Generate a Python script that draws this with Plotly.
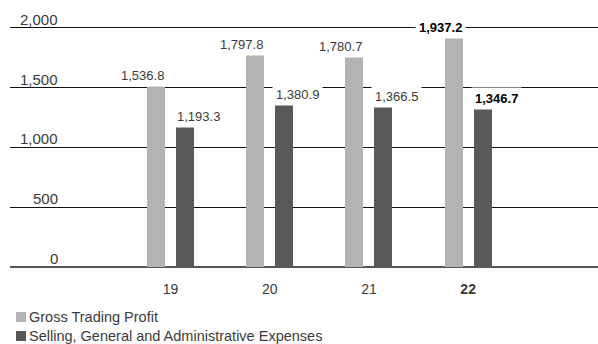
import plotly.graph_objects as go

# Fiscal years and the two series (billions of yen)
years = ["19", "20", "21", "22"]
gross_profit = [1536.8, 1797.8, 1780.7, 1937.2]
sga_expenses = [1193.3, 1380.9, 1366.5, 1346.7]
gross_labels = ["1,536.8", "1,797.8", "1,780.7", "1,937.2"]
sga_labels = ["1,193.3", "1,380.9", "1,366.5", "1,346.7"]
y_ticks = [0, 500, 1000, 1500, 2000]
y_tick_text = ["0", "500", "1,000", "1,500", "2,000"]
series_names = ["Gross Trading Profit", "Selling, General and Administrative Expenses"]

LIGHT = "#b3b3b3"
DARK = "#595959"
TEXT = "#3a3a3a"
FONT = "Liberation Sans, Arial, Helvetica, sans-serif"

W, H = 598, 344
ML, MR, MT, MB = 10, 0, 16, 77
plot_w = W - ML - MR
plot_h = H - MT - MB

x = list(range(len(years)))
bar_w = 0.1815
off_light = -0.237
off_dark = 0.0554
latest = len(years) - 1

fig = go.Figure()
fig.add_trace(go.Bar(x=x, y=gross_profit, width=bar_w, offset=off_light,
                     marker=dict(color=LIGHT, line=dict(width=0)),
                     name=series_names[0], showlegend=False))
fig.add_trace(go.Bar(x=x, y=sga_expenses, width=bar_w, offset=off_dark,
                     marker=dict(color=DARK, line=dict(width=0)),
                     name=series_names[1], showlegend=False))

annotations = []
# value labels on white boxes so they interrupt the gridlines
for i in x:
    bold = i == latest
    for val, lab, xpos, anchor, xs in (
        (gross_profit[i], gross_labels[i], i + off_light + bar_w, "right", 3),
        (sga_expenses[i], sga_labels[i], i + off_dark, "left", -3),
    ):
        annotations.append(dict(
            x=xpos, y=val, xref="x", yref="y", xanchor=anchor, yanchor="bottom",
            text=f"<b>{lab}</b>" if bold else lab, showarrow=False,
            xshift=xs, yshift=-4, bgcolor="white", borderpad=3,
            font=dict(family=FONT, size=13, color="#000" if bold else TEXT)))

# y tick labels sit above their gridlines
for v, t in zip(y_ticks, y_tick_text):
    annotations.append(dict(
        x=(60 - ML) / plot_w, y=v, xref="paper", yref="y", xanchor="right",
        yanchor="bottom", text=t, showarrow=False, yshift=-2,
        font=dict(family=FONT, size=15, color=TEXT)))

# legend
shapes = []
legend_rows = [(317, LIGHT), (336, DARK)]
for (cy, col), name in zip(legend_rows, series_names):
    shapes.append(dict(type="rect", xref="paper", yref="paper",
                       x0=(16 - ML) / plot_w, x1=(26 - ML) / plot_w,
                       y0=(MT + plot_h - (cy - 5)) / plot_h,
                       y1=(MT + plot_h - (cy + 5)) / plot_h,
                       fillcolor=col, line=dict(width=0)))
    annotations.append(dict(
        x=(27 - ML) / plot_w, y=(MT + plot_h - cy) / plot_h, xref="paper",
        yref="paper", xanchor="left", yanchor="middle", text=name,
        showarrow=False, font=dict(family=FONT, size=14.5, color=TEXT)))

tick_text = [f"<b>{y}</b>" if i == latest else y for i, y in enumerate(years)]

fig.update_layout(
    width=W, height=H,
    margin=dict(l=ML, r=MR, t=MT, b=MB),
    paper_bgcolor="white", plot_bgcolor="white",
    bargap=0, showlegend=False,
    annotations=annotations, shapes=shapes,
    font=dict(family=FONT, color=TEXT),
    xaxis=dict(range=[-1.618, 4.309], tickvals=x, ticktext=tick_text,
               showgrid=False, zeroline=False, showline=False, ticks="",
               tickfont=dict(family=FONT, size=14, color=TEXT),
               ticklabelstandoff=12, fixedrange=True),
    yaxis=dict(range=[0, 2100], tickvals=y_ticks, showticklabels=False,
               showgrid=True, gridcolor="#111111", gridwidth=1,
               zeroline=True, zerolinecolor="#555555", zerolinewidth=2,
               showline=False, ticks="", fixedrange=True),
)

fig.write_html("out.html")
